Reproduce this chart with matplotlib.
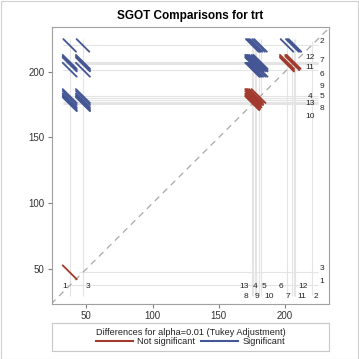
import matplotlib
matplotlib.use("Agg")
import matplotlib.pyplot as plt
from matplotlib.lines import Line2D
from matplotlib.patches import Rectangle
import numpy as np

plt.rcParams['font.family'] = ['Liberation Sans', 'DejaVu Sans']

# ---- data ----
levels = ['1', '2', '3', '4', '5', '6', '7', '8', '9', '10', '11', '12', '13']
lsmeans = [37.5, 220.0, 47.5, 177.0, 180.0, 201.5, 205.5, 176.0, 178.2, 181.5, 207.5, 206.5, 175.3]
# per-level half-width components of the Tukey interval (data units)
ci_component = [7.5, 6.0, 7.5, 7.5, 7.5, 7.5, 7.5, 7.5, 7.5, 7.5, 7.5, 7.5, 7.5]

title = "SGOT Comparisons for trt"
legend_title = "Differences for alpha=0.01 (Tukey Adjustment)"
legend_labels = ["Not significant", "Significant"]
ticks = [50, 100, 150, 200]

# ---- label layout (positions of the level labels) ----
bottom_label_x = {'1': 33.9, '3': 51.1, '13': 169.0, '4': 177.7, '5': 183.8, '6': 197.0, '12': 213.6,
                  '8': 170.6, '9': 178.5, '10': 188.3, '7': 202.3, '11': 212.8, '2': 223.4}
bottom_row2 = {'8', '9', '10', '7', '11', '2'}
right_label_y = {'2': 223.3, '7': 208.9, '6': 198.0, '9': 188.6, '5': 181.5, '8': 172.2, '3': 50.5, '1': 40.4,
                 '12': 210.6, '11': 203.3, '4': 181.5, '13': 176.0, '10': 165.8}
right_colA = {'12', '11', '4', '13', '10'}

RED = '#A23A2E'
BLUE = '#445694'
REF = '#E4E4E4'

W = H = 359
fig = plt.figure(figsize=(W / 100, H / 100), dpi=100)
ax = fig.add_axes([51.7 / W, 1 - 304 / H, (329 - 51.7) / W, (304 - 27) / H])
ax.set_xlim(23.9, 233.2)
ax.set_ylim(23.4, 234.0)

n = len(levels)
m = np.array(lsmeans)
c = np.array(ci_component)

pairs = []
for i in range(n):
    for j in range(i + 1, n):
        lo, hi = (i, j) if m[i] <= m[j] else (j, i)
        w = np.sqrt(c[lo] ** 2 + c[hi] ** 2)
        sig = (m[hi] - m[lo]) > w
        pairs.append((lo, hi, w, sig))

# reference lines
x_right = 225.0
y_bottom = 29.5
for k in range(n):
    xs = [m[lo] - w / 2 for lo, hi, w, s in pairs if hi == k and s]
    x0 = min(xs) if xs else m[k] - 3
    ax.plot([x0, x_right], [m[k], m[k]], color=REF, lw=0.8, zorder=1, solid_capstyle='butt')
    ys = [m[hi] + w / 2 for lo, hi, w, s in pairs if lo == k and s]
    y0 = max(ys) if ys else m[k] + 3
    ax.plot([m[k], m[k]], [y_bottom, y0], color=REF, lw=0.8, zorder=1, solid_capstyle='butt')

# diagonal
ax.plot([23.4, 234], [23.4, 234], color='#A8A8A8', lw=0.9, ls=(0, (5, 4)), zorder=2)

# segments
for lo, hi, w, s in pairs:
    x, y = m[lo], m[hi]
    ax.plot([x - w / 2, x + w / 2], [y + w / 2, y - w / 2], color=BLUE if s else RED,
            lw=1.3, zorder=4 if s else 3, solid_capstyle='round')

# labels
for lab, xv in bottom_label_x.items():
    yv = 29.1 if lab in bottom_row2 else 36.4
    ax.text(xv, yv, lab, ha='center', va='center', fontsize=6, color='#222222', zorder=5)
for lab, yv in right_label_y.items():
    xv = 218.9 if lab in right_colA else 227.9
    ax.text(xv, yv, lab, ha='center', va='center', fontsize=6, color='#222222', zorder=5)

ax.set_xticks(ticks)
ax.set_yticks(ticks)
ax.tick_params(length=3, width=0.8, color='#808080', labelsize=7, labelcolor='#333333', pad=2)
for sp in ax.spines.values():
    sp.set_color('#A0A0A0')
    sp.set_linewidth(0.8)

fig.text(190.4 / W, 1 - 16 / H, title, ha='center', va='center', fontsize=8.5, fontweight='bold', color='black')

# legend box
lax = fig.add_axes([52 / W, 1 - 351 / H, (329 - 52) / W, 28 / H])
lax.set_xticks([])
lax.set_yticks([])
for sp in lax.spines.values():
    sp.set_color('#C8C8C8')
    sp.set_linewidth(0.8)
handles = [Line2D([], [], color=RED, lw=1.5), Line2D([], [], color=BLUE, lw=1.5)]
leg = lax.legend(handles, legend_labels, loc='center', ncol=2, frameon=False, fontsize=6.6,
                 title=legend_title, title_fontsize=6.6, handlelength=4.0, handletextpad=0.5,
                 columnspacing=0.6, borderpad=0.1, labelspacing=0.1)
leg.get_title().set_color('#222222')
for t in leg.get_texts():
    t.set_color('#222222')

# outer border
fig.patches.append(Rectangle((0.5 / W, 0.5 / H), 1 - 1.5 / W, 1 - 1.5 / H, transform=fig.transFigure,
                             fill=False, edgecolor='#D0D0D0', lw=0.8))

fig.savefig('out.png', dpi=100)
